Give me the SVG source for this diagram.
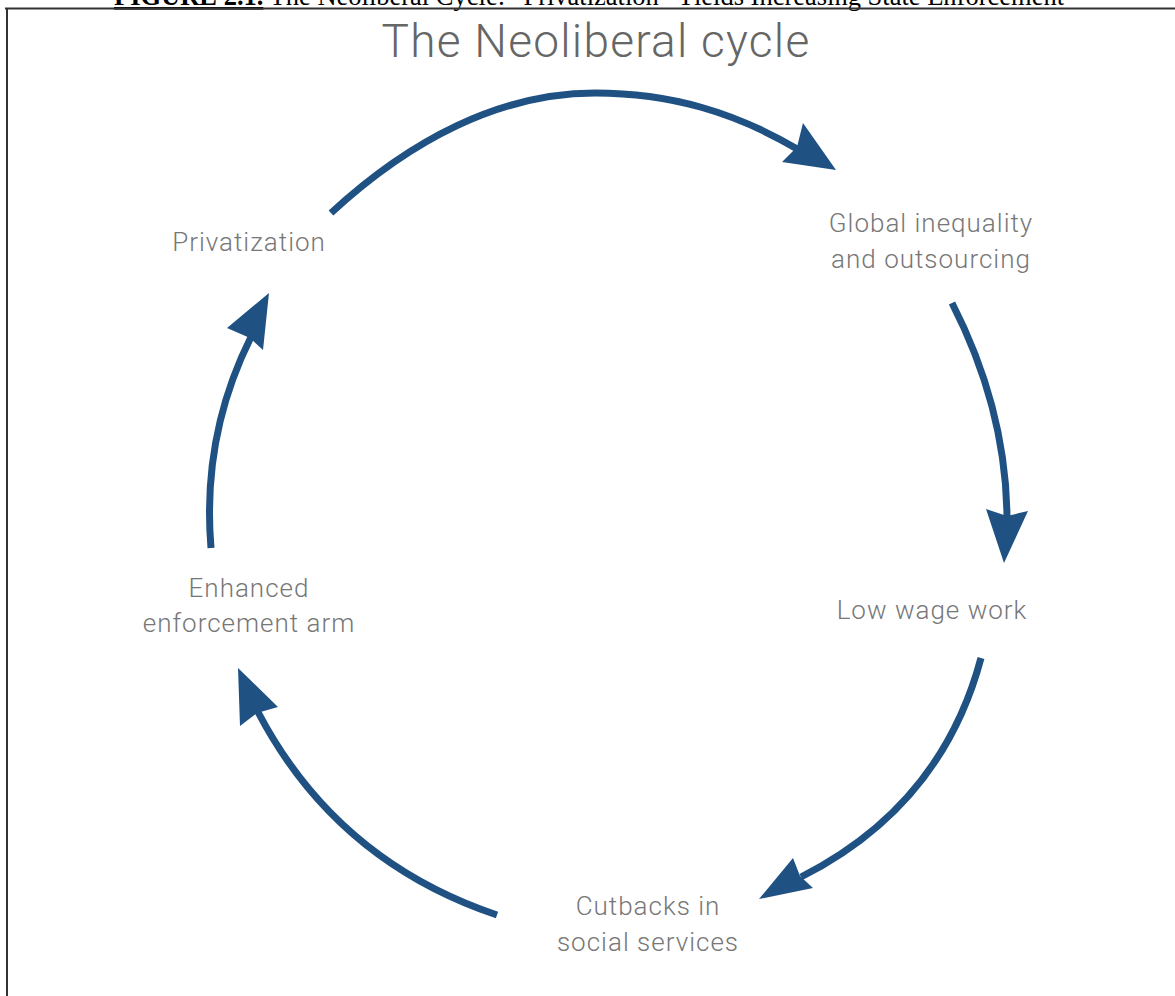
<svg xmlns="http://www.w3.org/2000/svg" width="1175" height="996" viewBox="0 0 1175 996">
<style>
.cap{font-family:"Liberation Serif","Times New Roman",serif;font-size:26.5px;fill:#000}
.title{font-family:Roboto,"Liberation Sans",sans-serif;font-weight:300;font-size:46px;letter-spacing:1.25px;fill:#666}
.lbl{font-family:Roboto,"Liberation Sans",sans-serif;font-weight:300;font-size:26px;letter-spacing:1px;fill:#777;text-anchor:middle}
.arc{fill:none;stroke:#1f5183;stroke-width:7;stroke-linecap:butt}
.head{fill:#1f5183}
</style>
<rect x="0" y="0" width="1175" height="996" fill="#fff"/>
<g id="caption">
<text class="cap" x="589" y="5" text-anchor="middle"><tspan font-weight="bold" text-decoration="underline">FIGURE 2.1.</tspan> The Neoliberal Cycle: “Privatization” Yields Increasing State Enforcement</text>
</g>
<g id="frame" stroke="#333" fill="none">
<line x1="5" y1="8.5" x2="1175" y2="8.5" stroke-width="2"/>
<line x1="7" y1="8" x2="7" y2="996" stroke-width="2"/>
</g>
<g id="title"><text class="title" x="596" y="57" text-anchor="middle">The Neoliberal cycle</text></g>
<g id="connectors">
<path class="arc" d="M331,213 C410,140 500,93 595,93 C670,93 735,112 799,150"/>
<polygon class="head" points="836,170 803,123 797,147 782,162"/>
<path class="arc" d="M952,303 Q1006.5,409.5 1007,519"/>
<polygon class="head" points="1004,563 986,509 1007,516 1028,511"/>
<path class="arc" d="M981,658 Q941.5,806 801,877"/>
<polygon class="head" points="759,899 793,858 800,876 813,888"/>
<path class="arc" d="M497,915 Q335.8,860.7 258,712"/>
<polygon class="head" points="238,668 278,707 257,713 240,726"/>
<path class="arc" d="M211,548 Q201.6,435.9 251,337"/>
<polygon class="head" points="269,293 227,328 250,338 263,350"/>
</g>
<g id="node-privatization"><text class="lbl" x="249" y="251">Privatization</text></g>
<g id="node-global"><text class="lbl" x="931" y="232">Global inequality</text><text class="lbl" x="931" y="268">and outsourcing</text></g>
<g id="node-lowwage"><text class="lbl" x="932" y="619">Low wage work</text></g>
<g id="node-cutbacks"><text class="lbl" x="648" y="915">Cutbacks in</text><text class="lbl" x="648" y="951">social services</text></g>
<g id="node-enforcement"><text class="lbl" x="249" y="597">Enhanced</text><text class="lbl" x="249" y="632">enforcement arm</text></g>
</svg>
